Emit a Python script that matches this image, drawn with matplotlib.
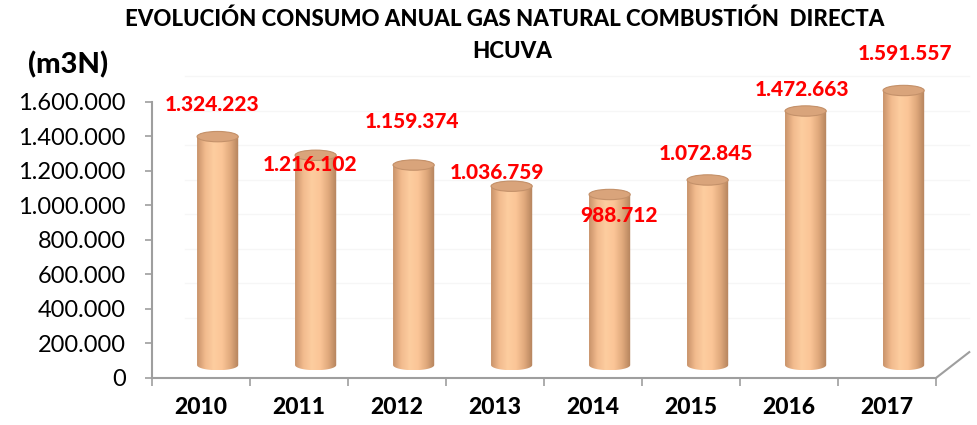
import matplotlib.pyplot as plt
import numpy as np
from matplotlib.colors import LinearSegmentedColormap
from matplotlib.patches import Ellipse
from matplotlib.path import Path
from matplotlib.patches import PathPatch

# data
years = ['2010', '2011', '2012', '2013', '2014', '2015', '2016', '2017']
consumo = [1324223, 1216102, 1159374, 1036759, 988712, 1072845, 1472663, 1591557]
labels = ['1.324.223', '1.216.102', '1.159.374', '1.036.759', '988.712',
          '1.072.845', '1.472.663', '1.591.557']
yticks = [0, 200000, 400000, 600000, 800000, 1000000, 1200000, 1400000, 1600000]
ytick_labels = ['0', '200.000', '400.000', '600.000', '800.000', '1.000.000',
                '1.200.000', '1.400.000', '1.600.000']

# label placement (excel put them a bit everywhere)
label_dy = [259000, 19000, 325000, 157000, -44000, 231000, 197000, 292000]
label_dx = [0.11, 0.11, 0.15, 0.02, 0.27, 0.15, 0.13, 0.18]

# 3d look
dx = 0.17        # depth shift in categories
dy = 75000       # depth shift in value units
w = 0.42         # cylinder width
eh = 30000       # half height of ellipses
font = 'Lato'

fig = plt.figure(figsize=(9.78, 4.25), dpi=100)
ax = fig.add_axes([0.1554, 0.1106, 0.8016, 0.7712])
ax.set_xlim(-0.5, 7.5)
ax.set_ylim(0, 1900000)

body = LinearSegmentedColormap.from_list('cyl', ['#c9936a', '#f2bb8e', '#fdcd9f', '#fbc597', '#e0a97c', '#b3825c'])
grad = np.linspace(0, 1, 200).reshape(1, -1)

# faint back wall grid
for t in yticks[1:]:
    ax.plot([-0.5 + 2 * dx, 7.5 + 2 * dx], [t + 2 * dy, t + 2 * dy], color='#f6f6f6', lw=1, zorder=0, clip_on=False)

for i, v in enumerate(consumo):
    cx = i + dx
    a = w / 2
    base = dy
    top = v + dy
    th = np.linspace(np.pi, 2 * np.pi, 40)
    pts = [(cx + a * np.cos(t), base + eh * np.sin(t)) for t in th]
    th2 = np.linspace(0, np.pi, 40)
    pts += [(cx + a * np.cos(t), top + eh * np.sin(t)) for t in th2]
    pts.append(pts[0])
    path = Path(pts)
    patch = PathPatch(path, facecolor='none', edgecolor='none')
    ax.add_patch(patch)
    im = ax.imshow(grad, cmap=body, extent=(cx - a, cx + a, base - eh, top + eh),
                   aspect='auto', zorder=2, interpolation='bilinear')
    im.set_clip_path(patch)
    ax.add_patch(Ellipse((cx, top), 2 * a, 2 * eh, facecolor='#d9a47b', edgecolor='#c4916a', lw=0.8, zorder=3))

    ax.text(i + label_dx[i], v + label_dy[i], labels[i], color='#ff0000', fontsize=15,
            fontweight='black', ha='center', va='center', family=font, zorder=5)

# axes styling
for s in ['top', 'right']:
    ax.spines[s].set_visible(False)
ax.spines['left'].set_bounds(0, 1600000)
ax.spines['left'].set_color('#9e9e9e')
ax.spines['bottom'].set_color('#9e9e9e')
ax.spines['left'].set_linewidth(1.5)
ax.spines['bottom'].set_linewidth(1.5)
ax.plot([7.5, 7.5 + 2 * dx], [0, 2 * dy], color='#9e9e9e', lw=1.5, clip_on=False)

ax.set_yticks(yticks)
ax.set_yticklabels(ytick_labels, family=font, fontsize=17)
ax.tick_params(axis='y', length=5, color='#9e9e9e', width=1.2, pad=14)

ax.set_xticks(range(len(years)))
ax.set_xticklabels(years, family=font, fontsize=16.5, fontweight='black')
ax.set_xticks(np.arange(-0.5, 8, 1), minor=True)
ax.tick_params(axis='x', which='major', length=0, pad=14)
ax.tick_params(axis='x', which='minor', length=6, color='#9e9e9e', width=1.2)

fig.text(0.516, 0.955, 'EVOLUCIÓN CONSUMO ANUAL GAS NATURAL COMBUSTIÓN  DIRECTA',
         family=font, fontsize=16, fontweight='black', ha='center', va='center')
fig.text(0.524, 0.878, 'HCUVA', family=font, fontsize=16, fontweight='black', ha='center', va='center')
fig.text(0.070, 0.847, '(m3N)', family=font, fontsize=21, fontweight='black', ha='center', va='center')

fig.savefig('out.png', dpi=100)
